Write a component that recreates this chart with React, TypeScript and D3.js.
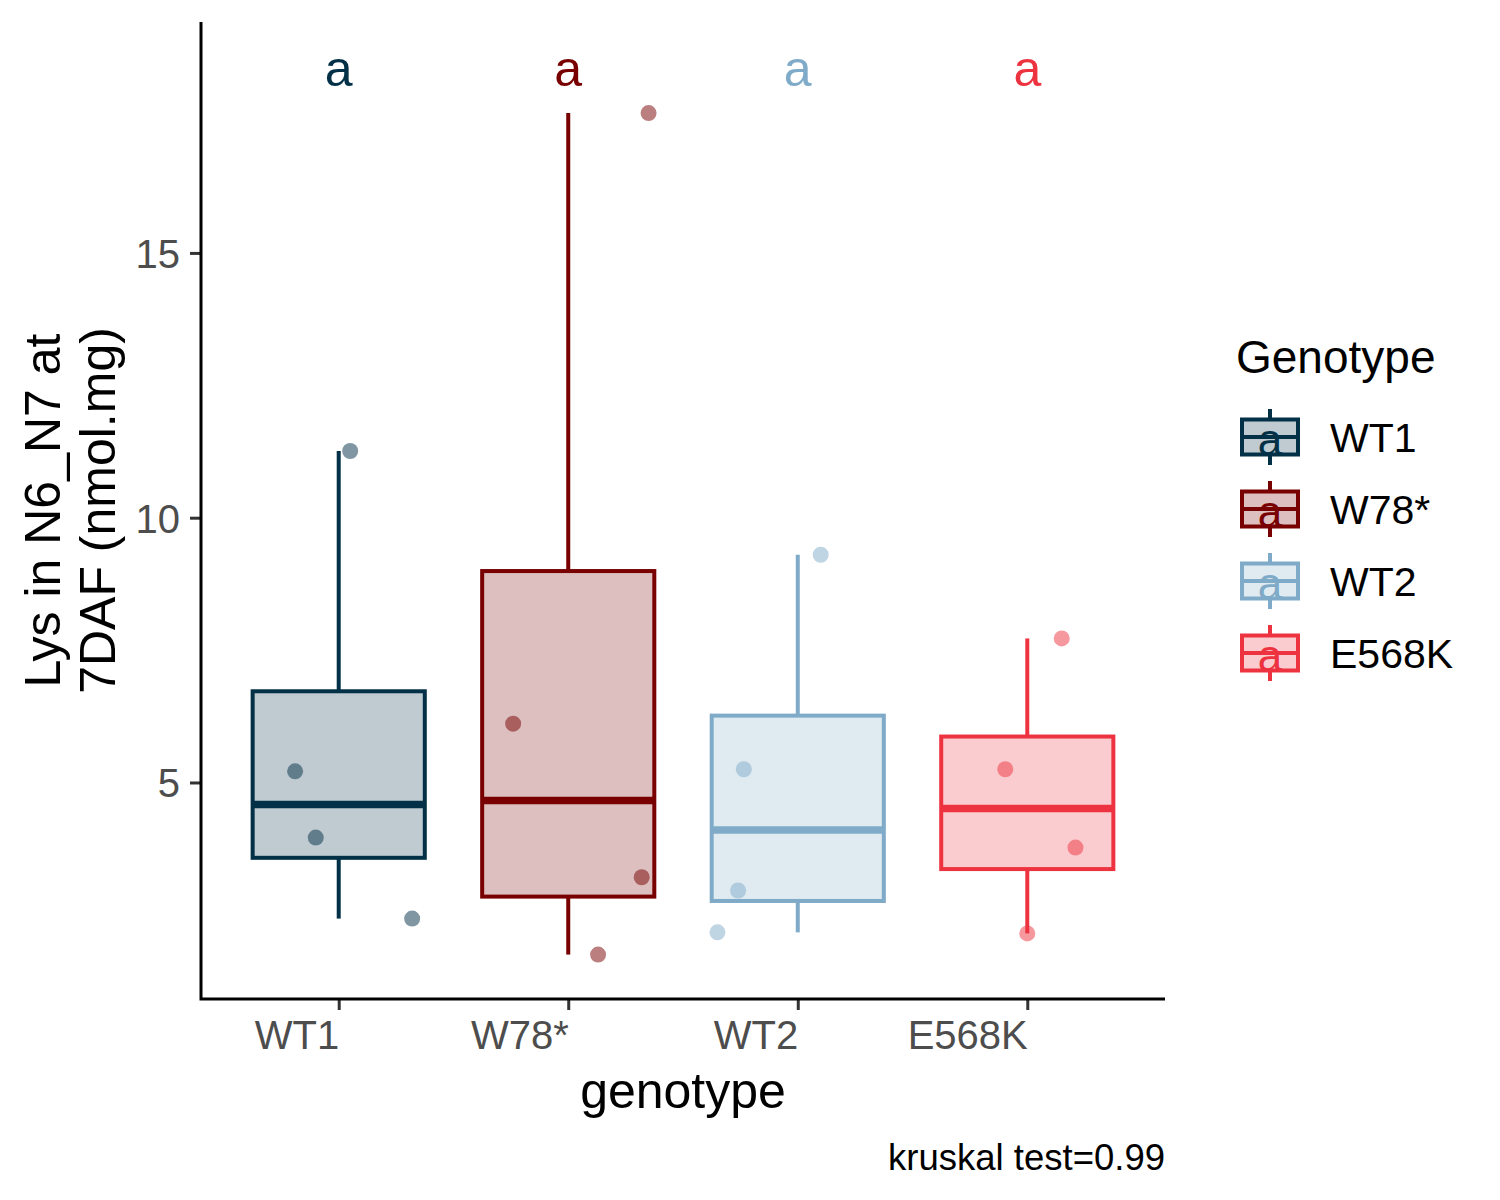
import React, { useEffect, useRef } from 'react';
import * as d3 from 'd3';

const genotypes = ['WT1', 'W78*', 'WT2', 'E568K'];
const genotypeColors = ['#023047', '#780000', '#7FABC9', '#EE3340'];
const groupLetters = ['a', 'a', 'a', 'a'];

// measured values per genotype (4 replicates each)
const wt1Values = [11.26, 5.21, 3.96, 2.43];
const w78Values = [17.64, 6.11, 3.21, 1.75];
const wt2Values = [9.3, 5.25, 2.96, 2.17];
const e568kValues = [7.72, 5.25, 3.77, 2.15];

// horizontal jitter, in units of category spacing
const wt1Jitter = [0.05, -0.19, -0.1, 0.32];
const w78Jitter = [0.35, -0.24, 0.32, 0.13];
const wt2Jitter = [0.1, -0.235, -0.26, -0.35];
const e568kJitter = [0.15, -0.096, 0.21, 0.0];

const yTicks = [5, 10, 15];
const kruskalLabel = 'kruskal test=0.99';

const FONT = 'Liberation Sans, Arial, sans-serif';

const App: React.FC = () => {
  const svgRef = useRef<SVGSVGElement | null>(null);
  const width = 1500;
  const height = 1200;

  useEffect(() => {
    document.body.style.margin = '0';
    if (!svgRef.current) return;

    const svg = d3.select(svgRef.current);
    svg.selectAll('*').remove();

    const margin = { top: 22, right: 335, bottom: 201, left: 201 };
    const innerWidth = width - margin.left - margin.right;
    const innerHeight = height - margin.top - margin.bottom;

    const groups = [wt1Values, w78Values, wt2Values, e568kValues].map((values, i) => ({
      name: genotypes[i],
      color: genotypeColors[i],
      letter: groupLetters[i],
      values,
      jitter: [wt1Jitter, w78Jitter, wt2Jitter, e568kJitter][i],
    }));

    const allValues = groups.flatMap((g) => g.values);
    const letterY = (d3.max(allValues) as number) * 1.05;
    const lo = d3.min(allValues) as number;
    const hi = letterY;
    const pad = (hi - lo) * 0.05;

    const x = d3.scalePoint<string>().domain(genotypes).range([0, innerWidth]).padding(0.6);
    const step = x.step();
    const y = d3.scaleLinear().domain([lo - pad, hi + pad]).range([innerHeight, 0]);

    const g = svg.append('g').attr('transform', `translate(${margin.left},${margin.top})`);

    const boxWidth = step * 0.75;
    const lineW = 4;

    groups.forEach((grp) => {
      const sorted = [...grp.values].sort(d3.ascending);
      const q1 = d3.quantile(sorted, 0.25) as number;
      const med = d3.quantile(sorted, 0.5) as number;
      const q3 = d3.quantile(sorted, 0.75) as number;
      const iqr = q3 - q1;
      const wLo = d3.min(sorted.filter((v) => v >= q1 - 1.5 * iqr)) as number;
      const wHi = d3.max(sorted.filter((v) => v <= q3 + 1.5 * iqr)) as number;
      const cx = x(grp.name) as number;

      const bg = g.append('g');
      bg.append('line')
        .attr('x1', cx).attr('x2', cx)
        .attr('y1', y(q3)).attr('y2', y(wHi))
        .attr('stroke', grp.color).attr('stroke-width', lineW);
      bg.append('line')
        .attr('x1', cx).attr('x2', cx)
        .attr('y1', y(q1)).attr('y2', y(wLo))
        .attr('stroke', grp.color).attr('stroke-width', lineW);
      bg.append('rect')
        .attr('x', cx - boxWidth / 2)
        .attr('y', y(q3))
        .attr('width', boxWidth)
        .attr('height', y(q1) - y(q3))
        .attr('fill', grp.color)
        .attr('fill-opacity', 0.25)
        .attr('stroke', grp.color)
        .attr('stroke-width', lineW);
      bg.append('line')
        .attr('x1', cx - boxWidth / 2).attr('x2', cx + boxWidth / 2)
        .attr('y1', y(med)).attr('y2', y(med))
        .attr('stroke', grp.color).attr('stroke-width', 7.5);

      g.append('g')
        .selectAll('circle')
        .data(grp.values)
        .join('circle')
        .attr('cx', (_, i) => cx + grp.jitter[i] * step)
        .attr('cy', (d) => y(d))
        .attr('r', 8)
        .attr('fill', grp.color)
        .attr('fill-opacity', 0.5);

      g.append('text')
        .attr('x', cx)
        .attr('y', y(letterY))
        .attr('dy', '0.4em')
        .attr('text-anchor', 'middle')
        .attr('font-family', FONT)
        .attr('font-size', 50)
        .attr('fill', grp.color)
        .text(grp.letter);
    });

    // axes
    const xAxisG = g.append('g').attr('transform', `translate(0,${innerHeight})`)
      .call(d3.axisBottom(x).tickSize(11).tickPadding(10));
    const yAxisG = g.append('g')
      .call(d3.axisLeft(y).tickValues(yTicks).tickSize(11).tickPadding(10));

    [xAxisG, yAxisG].forEach((ax) => {
      ax.select('.domain').remove();
      ax.selectAll('.tick line').attr('stroke', '#333333').attr('stroke-width', 3);
      ax.selectAll('.tick text')
        .attr('font-family', FONT)
        .attr('font-size', 40)
        .attr('fill', '#4D4D4D');
    });
    yAxisG.selectAll('.tick text').attr('dy', '0.36em');
    // labels are right-justified on their tick
    xAxisG.selectAll('.tick text').attr('dy', '0.72em').attr('text-anchor', 'end').attr('x', 0);

    g.append('path')
      .attr('d', `M0,0V${innerHeight}H${innerWidth}`)
      .attr('fill', 'none')
      .attr('stroke', 'black')
      .attr('stroke-width', 3);

    // titles
    g.append('text')
      .attr('x', innerWidth / 2)
      .attr('y', innerHeight + 109)
      .attr('text-anchor', 'middle')
      .attr('font-family', FONT)
      .attr('font-size', 50)
      .attr('fill', 'black')
      .text('genotype');

    const yTitle = svg.append('text')
      .attr('transform', `translate(60,${margin.top + innerHeight / 2}) rotate(-90)`)
      .attr('text-anchor', 'middle')
      .attr('font-family', FONT)
      .attr('font-size', 50)
      .attr('fill', 'black');
    yTitle.append('tspan').attr('x', 0).attr('y', 0).text('Lys in N6_N7 at');
    yTitle.append('tspan').attr('x', 0).attr('y', 55).text('7DAF (nmol.mg)');

    svg.append('text')
      .attr('x', margin.left + innerWidth)
      .attr('y', 1170)
      .attr('text-anchor', 'end')
      .attr('font-family', FONT)
      .attr('font-size', 36.5)
      .attr('fill', 'black')
      .text(kruskalLabel);

    // legend
    const legend = svg.append('g').attr('transform', 'translate(1235,0)');
    legend.append('text')
      .attr('x', 1)
      .attr('y', 373)
      .attr('font-family', FONT)
      .attr('font-size', 46)
      .attr('fill', 'black')
      .text('Genotype');

    const keySize = 70;
    groups.forEach((grp, i) => {
      const cy = 437 + i * 72;
      const key = legend.append('g').attr('transform', `translate(0,${cy - keySize / 2})`);
      key.append('line')
        .attr('x1', keySize / 2).attr('x2', keySize / 2)
        .attr('y1', keySize * 0.1).attr('y2', keySize * 0.9)
        .attr('stroke', grp.color).attr('stroke-width', lineW);
      key.append('rect')
        .attr('x', keySize * 0.1)
        .attr('y', keySize * 0.25)
        .attr('width', keySize * 0.8)
        .attr('height', keySize * 0.5)
        .attr('fill', 'white')
        .attr('stroke', 'none');
      key.append('rect')
        .attr('x', keySize * 0.1)
        .attr('y', keySize * 0.25)
        .attr('width', keySize * 0.8)
        .attr('height', keySize * 0.5)
        .attr('fill', grp.color)
        .attr('fill-opacity', 0.25)
        .attr('stroke', grp.color)
        .attr('stroke-width', lineW);
      key.append('line')
        .attr('x1', keySize * 0.1).attr('x2', keySize * 0.9)
        .attr('y1', keySize / 2).attr('y2', keySize / 2)
        .attr('stroke', grp.color).attr('stroke-width', lineW);
      key.append('text')
        .attr('x', keySize / 2)
        .attr('y', keySize / 2)
        .attr('dy', '0.42em')
        .attr('text-anchor', 'middle')
        .attr('font-family', FONT)
        .attr('font-size', 44)
        .attr('fill', grp.color)
        .text(grp.letter);
      legend.append('text')
        .attr('x', 95)
        .attr('y', cy)
        .attr('dy', '0.36em')
        .attr('font-family', FONT)
        .attr('font-size', 41)
        .attr('fill', 'black')
        .text(grp.name);
    });
  }, []);

  return <svg ref={svgRef} width={width} height={height} style={{ display: 'block', background: 'white' }} />;
};

export default App;
